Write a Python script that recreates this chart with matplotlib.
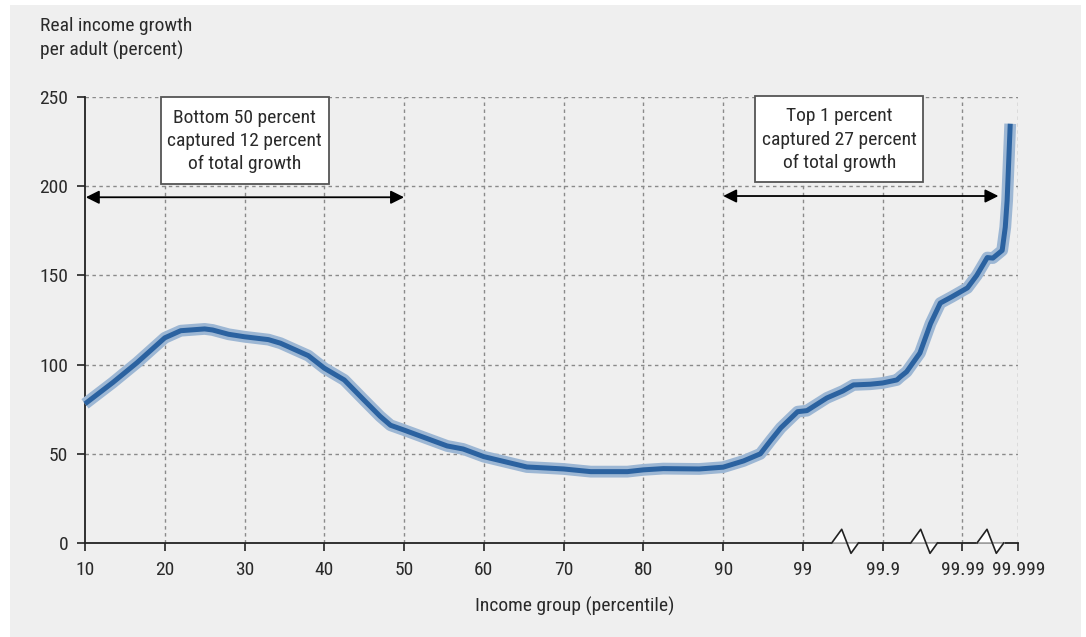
import numpy as np
import matplotlib
matplotlib.use("Agg")
import matplotlib.pyplot as plt
from matplotlib.patches import Rectangle, Polygon
from matplotlib import font_manager

avail = {f.name for f in font_manager.fontManager.ttflist}
COND = 'Roboto Condensed' in avail
plt.rcParams['font.family'] = ['Roboto Condensed', 'Roboto', 'DejaVu Sans'] if COND else ['Roboto', 'DejaVu Sans']
FS = 14 if COND else 13
FS_BOX = 14 if COND else 13

# ---- data ----
tick_pct = [10, 20, 30, 40, 50, 60, 70, 80, 90, 99, 99.9, 99.99, 99.999]
tick_labels = ["10", "20", "30", "40", "50", "60", "70", "80", "90",
               "99", "99.9", "99.99", "99.999"]
y_ticks = [0, 50, 100, 150, 200, 250]

percentile = [10, 13.5, 16.5, 20, 22, 25, 26, 28, 30, 33, 34.5, 38, 40, 42.5,
              45, 47, 48.3, 50, 55.4, 57.4, 60, 65.4, 68, 70, 73.4, 78, 80,
              82.5, 87, 90, 92.3, 94.2, 95.4, 96.5, 98.4, 99.045, 99.27, 99.45,
              99.57, 99.76, 99.9, 99.916, 99.92, 99.927, 99.942, 99.954, 99.965,
              99.978, 99.9908, 99.9923, 99.994, 99.9949, 99.9964, 99.9969,
              99.9972, 99.9977]
growth = [78, 90, 101, 115, 119, 120, 119.4, 117, 115.6, 114, 112, 105, 98, 91.4,
          80, 71, 66, 63.3, 54.4, 52.7, 48.4, 42.6, 42, 41.5, 40, 40, 41,
          41.7, 41.5, 42.5, 46, 50, 57.7, 64.5, 73.6, 74.2, 81.3, 85.2,
          88.6, 89, 89.7, 91.4, 93.2, 96, 106.5, 123, 134.5,
          138, 143, 150, 160, 159.7, 164, 177,
          192, 235]

# axis slot of each tick (the axis is broken into segments)
tick_slot = [0, 1, 2, 3, 4, 5, 6, 7, 8, 9, 10, 11, 11.7]


def fwd(p):
    return np.interp(p, tick_pct, tick_slot)


def inv(s):
    return np.interp(s, tick_slot, tick_pct)


W, H = 1086, 637
fig = plt.figure(figsize=(W / 100, H / 100), dpi=100)
fig.patch.set_facecolor('white')
fig.patches.append(Rectangle((10 / W, 0), (W - 15) / W, (H - 5) / H,
                             transform=fig.transFigure, facecolor='#efefef',
                             edgecolor='none', zorder=-10))

ax_l, ax_r, ax_b, ax_t = 85, 1018.3, 543, 97
ax = fig.add_axes([ax_l / W, 1 - ax_b / H, (ax_r - ax_l) / W, (ax_b - ax_t) / H])
ax.set_facecolor('none')
ax.set_xscale('function', functions=(fwd, inv))
ax.set_xlim(10, 99.999)
ax.set_ylim(0, 250)

txt_col = '#2a2a2a'
ax.set_xticks(tick_pct)
ax.set_xticklabels(tick_labels)
ax.set_yticks(y_ticks)
ax.xaxis.set_minor_locator(matplotlib.ticker.NullLocator())
ax.tick_params(axis='both', direction='out', length=6, width=1.2, color='#222222',
               labelsize=FS, labelcolor=txt_col)
ax.tick_params(axis='x', pad=7)
ax.tick_params(axis='y', pad=6)

for s in ['top', 'right']:
    ax.spines[s].set_visible(False)
for s in ['left', 'bottom']:
    ax.spines[s].set_color('#222222')
    ax.spines[s].set_linewidth(1.3)

# grid
for p in tick_pct[1:]:
    ax.axvline(p, color='#8a8a8a', lw=1, ls=(0, (2.5, 2.5)), zorder=1)
for v in y_ticks[1:]:
    ax.axhline(v, color='#8a8a8a', lw=1, ls=(0, (2.5, 2.5)), zorder=1)

# curve with halo
ax.plot(percentile, growth, color='#9db7d4', lw=8.5, solid_capstyle='butt',
        solid_joinstyle='round', zorder=3, clip_on=False)
ax.plot(percentile, growth, color='#2b62a0', lw=3.6, solid_capstyle='butt',
        solid_joinstyle='round', zorder=4, clip_on=False)

# annotation boxes
for (x0, x1, y0, y1) in [(19.53, 40.6, 201.4, 250.2), (93.6, 99.946, 202.2, 250.8)]:
    ax.add_patch(Rectangle((x0, y0), x1 - x0, y1 - y0, facecolor='white',
                           edgecolor='#555555', lw=1.3, zorder=6, clip_on=False))
ax.text(30, 225.3, "Bottom 50 percent\ncaptured 12 percent\nof total growth",
        ha='center', va='center', fontsize=FS_BOX, color=txt_col,
        linespacing=1.38 if COND else 1.45, zorder=7)
ax.text(99.41, 226.1, "Top 1 percent\ncaptured 27 percent\nof total growth",
        ha='center', va='center', fontsize=FS_BOX, color=txt_col,
        linespacing=1.38 if COND else 1.45, zorder=7)
arrow = dict(arrowstyle='<|-|>', color='black', lw=1.3, mutation_scale=20,
             shrinkA=0, shrinkB=0)
ax.annotate('', xy=(50, 193.8), xytext=(10.1, 193.8), arrowprops=arrow, zorder=5)
ax.annotate('', xy=(99.9958, 194.5), xytext=(90, 194.5), arrowprops=arrow, zorder=5)


# axis break markers (pixel geometry converted to axes fraction)
def ax_frac(xp, yp):
    return ((xp - ax_l) / (ax_r - ax_l), (ax_b - yp) / (ax_b - ax_t))


for x0 in [831.7, 910.7, 977.0]:
    pts = [ax_frac(x0, 543), ax_frac(x0 + 10, 529.3), ax_frac(x0 + 19.3, 553.3),
           ax_frac(x0 + 26.7, 543)]
    ax.add_patch(Polygon(pts, closed=True, facecolor='white', edgecolor='none',
                         transform=ax.transAxes, clip_on=False, zorder=7))
    ax.plot([pts[0][0], pts[3][0]], [0, 0], color='#aaaaaa', lw=1.3,
            transform=ax.transAxes, clip_on=False, zorder=8)
    ax.plot([p[0] for p in pts], [p[1] for p in pts], color='#222222', lw=1.2,
            transform=ax.transAxes, clip_on=False, zorder=9)

# titles
fig.text(40 / W, 1 - 17 / H, "Real income growth\nper adult (percent)", ha='left',
         va='top', fontsize=FS, color=txt_col, linespacing=1.4 if COND else 1.5)
fig.text(575 / W, 1 - 612 / H, "Income group (percentile)", ha='center',
         va='baseline', fontsize=FS, color=txt_col)

fig.savefig('out.png', dpi=100, facecolor=fig.get_facecolor())
